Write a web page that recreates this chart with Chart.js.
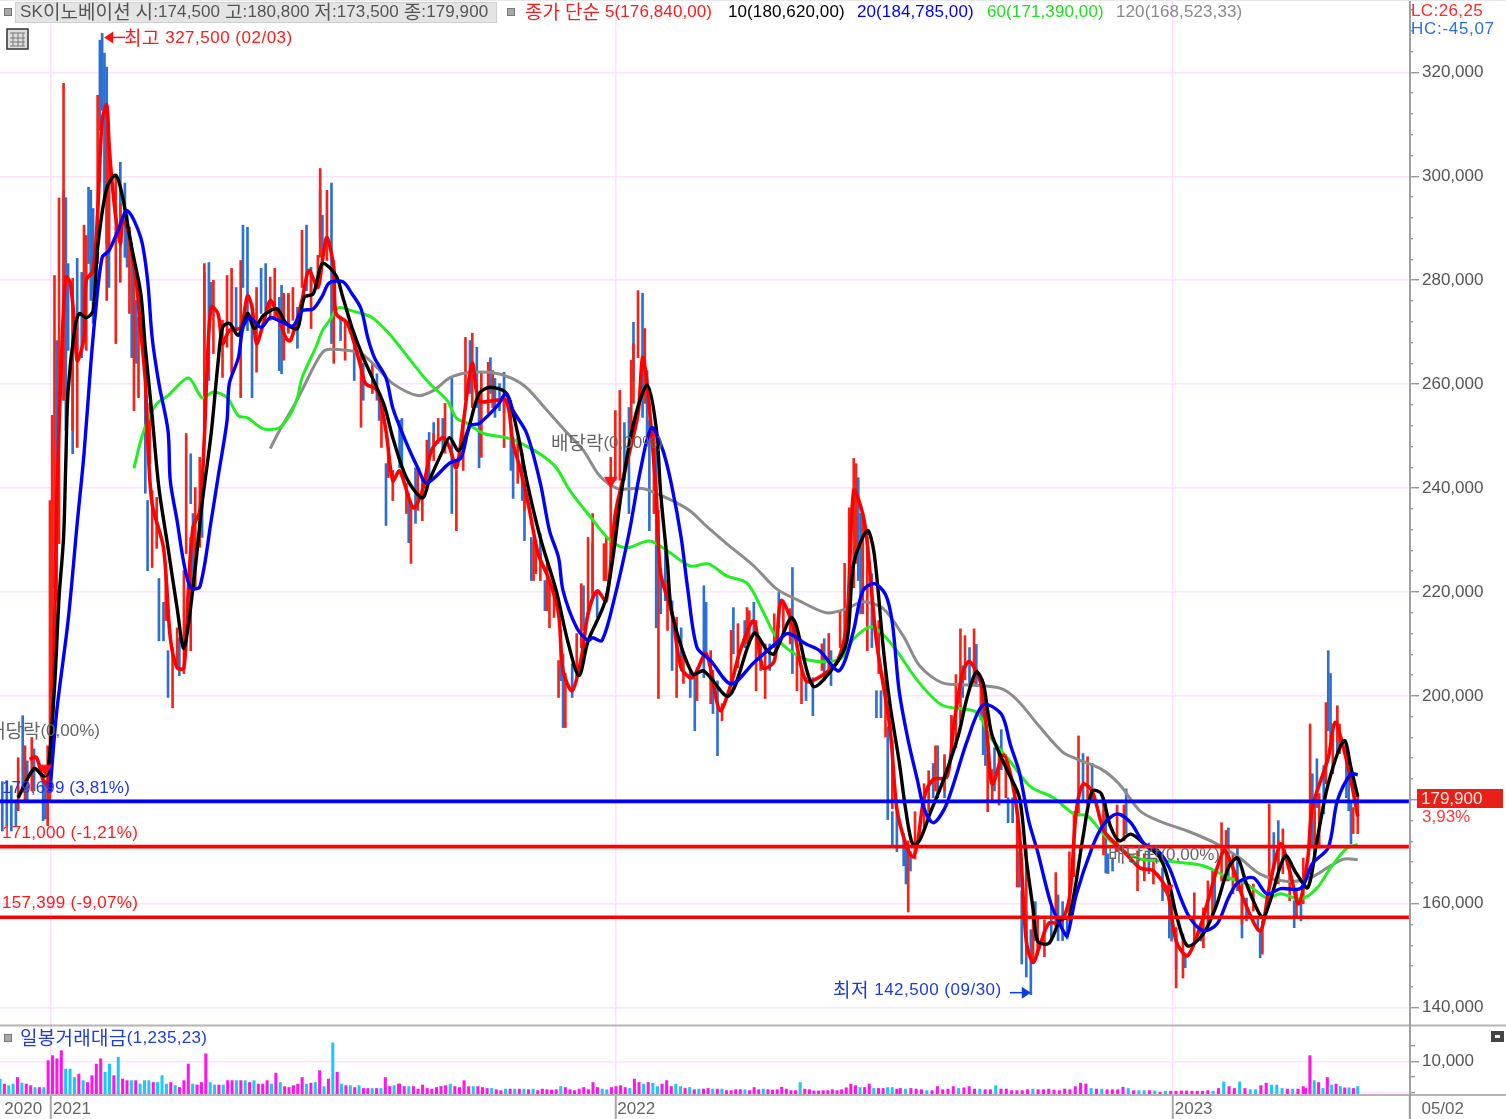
<!DOCTYPE html>
<html lang="ko"><head><meta charset="utf-8"><title>SK이노베이션</title>
<style>html,body{margin:0;padding:0;background:#fff}canvas{display:block}</style>
<script src="https://cdn.jsdelivr.net/npm/chart.js@4/dist/chart.umd.min.js"></script>
</head><body><canvas id="c" width="1506" height="1119"></canvas>
<script>
// all prices in thousands of won; each pair is [session index, value]
const ma5=[[13,187.8],[16,188.2],[19,183.8],[21,183],[23,195.9],[24,211.2],[25,237.6],[27,264],[29,280.6],[31,279.4],[33,270.3],[34,264.5],[37,268.9],[38,280],[41,281.9],[43,292.9],[45,310.8],[47,313.7],[48,306.4],[49,300.6],[51,292.1],[53,287.1],[54,291.5],[56,290.2],[58,285.8],[60,280],[62,270.3],[64,260.7],[65,249.8],[67,237],[72,228.5],[75,211.2],[78,205.4],[81,205.4],[83,220.8],[85,232.4],[88,235.6],[90,249.7],[91,260.7],[93,274.8],[96,273.6],[98,267.8],[101,270.3],[106,270.9],[109,277],[111,274.8],[113,267.8],[116,271.7],[119,276.1],[122,273.6],[126,268.8],[128,268.4],[133,276.1],[136,281.9],[140,278.6],[142,283.8],[144,288.2],[147,282.4],[148,273.6],[153,271.7],[159,263.2],[161,260.1],[166,258.8],[170,251],[173,241.4],[176,243.3],[182,236.2],[186,239.5],[190,247.2],[195,249.7],[198,247.8],[201,243.9],[204,252.4],[208,264],[211,256.8],[217,256.8],[223,256.8],[226,248.5],[229,243.9],[233,236.2],[237,227.4],[242,222.2],[246,215.8],[248,204.8],[252,201],[256,207.3],[259,215.8],[263,220.2],[267,218.3],[271,235],[276,244.7],[281,254.3],[283,265.1],[285,260.1],[289,238.9],[291,223.5],[296,215.8],[300,205.4],[305,203.5],[311,208.1],[317,197.2],[322,202.3],[326,208.7],[332,214.4],[336,205.4],[341,206.7],[344,218.3],[349,213.9],[355,202.9],[363,204.2],[369,206.8],[373,214.4],[376,239.5],[380,235],[382,229.2],[386,210.6],[392,193.7],[395,178.3],[399,171.4],[402,169],[404,171.4],[407,180.4],[411,183.9],[417,184.4],[420,194.1],[424,204.5],[427,206.6],[432,202.4],[435,191.2],[437,183],[442,188.6],[446,183],[449,173.4],[452,152.8],[455,148.7],[458,152],[462,156.3],[467,156.3],[471,161.1],[474,177.7],[477,183],[481,181.7],[486,174.2],[490,172.1],[496,169.6],[502,166.9],[508,166.3],[514,162.5],[518,152.8],[523,150],[529,156.1],[532,160.5],[539,170.2],[543,166.9],[548,160.5],[555,154.8],[559,163.1],[564,171.5],[568,166.3],[572,160],[576,168.8],[578,178.5],[585,188.1],[588,194.9],[592,189.5],[595,183.7],[598,176.8]];
const ma10=[[8,180.4],[15,186],[19,184.6],[21,185],[24,201.6],[26,218.9],[28,230.5],[29,245.3],[30,258.8],[33,270.9],[35,273.6],[38,272.8],[41,274.1],[43,286.3],[47,297.7],[51,300.2],[54,296],[58,286.3],[62,277.4],[64,267],[67,253.9],[70,240],[74,228.5],[78,216.9],[81,209.2],[85,220.8],[89,237],[93,250.5],[96,264],[98,270.9],[101,271.7],[105,269.4],[109,273.6],[112,270.7],[116,273.2],[122,274.5],[126,271.7],[131,270.7],[134,276.7],[138,277.4],[142,283.2],[148,280.9],[151,276.7],[155,270.9],[160,265.1],[169,256.2],[173,249.7],[179,242],[186,238.1],[189,241.4],[195,247.2],[198,249.7],[202,247.2],[206,251],[211,258.2],[216,259.4],[223,258.2],[228,250.5],[232,241.4],[238,230.4],[245,220.2],[250,210.6],[255,203.9],[259,210.6],[267,218.9],[274,240.1],[279,252.4],[285,259.8],[289,251.6],[291,238.9],[294,225.4],[296,215.8],[305,204.2],[310,204.8],[321,200],[332,212],[338,208.7],[341,208.1],[349,215],[358,201.9],[367,205.4],[373,210.6],[376,225.5],[382,231.8],[385,227.4],[389,209.3],[392,198.3],[396,187.4],[399,177.8],[402,171.4],[405,172.2],[410,177.8],[415,183.2],[422,192.3],[426,199.8],[430,204.6],[433,202.5],[435,197.1],[437,192.3],[444,185.3],[449,180.4],[452,168.6],[455,159],[457,152.8],[462,152.4],[467,156.9],[471,157.6],[477,172.9],[481,181.7],[485,181.2],[489,175],[493,172.1],[498,173.4],[504,171.5],[511,168.8],[515,163.8],[518,158],[523,151.9],[530,154.2],[536,160],[541,166.9],[545,168.8],[549,163.8],[556,157.3],[559,160],[566,169.2],[571,165.8],[576,163.1],[580,172.1],[585,183.1],[592,191.4],[595,186.2],[598,180.6]];
const ma20=[[22,181.7],[25,197.1],[30,214.5],[34,233.2],[37,246.6],[40,263.9],[42,273.6],[45,284.4],[48,285.7],[52,289.6],[56,293.4],[62,288.2],[65,280],[67,269],[70,260.1],[74,251],[75,241.4],[78,233.7],[81,225.5],[84,220.8],[88,221],[93,233.7],[96,242],[100,253],[101,260.1],[105,265.1],[107,270.9],[110,272.8],[115,270.9],[119,272.8],[123,272.2],[129,271.2],[133,274.1],[138,274.5],[142,277],[145,279.5],[151,279.7],[155,277.4],[159,274.5],[162,268.9],[165,265],[170,261.2],[173,255.4],[178,249.7],[184,243.9],[188,241],[198,244.8],[203,245.8],[207,252],[211,252.4],[219,255.8],[223,258.2],[226,254.9],[232,250.5],[238,240.9],[242,231.8],[246,226.6],[248,220.2],[254,213.1],[259,210.6],[261,211.2],[265,210.6],[270,217.7],[277,231.2],[282,243.3],[287,251.6],[292,247.2],[296,240.1],[300,230.5],[303,220.2],[307,209.3],[313,206.8],[322,202.3],[332,206.4],[342,210.2],[347,212],[355,210],[361,208.7],[369,204.8],[372,206.6],[376,212.7],[380,220.2],[385,221.6],[390,219.5],[393,214.1],[396,201],[400,191.4],[404,183.9],[407,178.3],[411,175.6],[416,178.3],[420,183.1],[426,191.4],[433,198.3],[441,196.5],[445,190.6],[449,185.2],[453,176.1],[457,170],[463,159.8],[468,155],[470,153.8],[474,161.7],[481,170.8],[486,175.2],[492,177.3],[498,175.6],[504,171.5],[510,170.2],[515,166.9],[520,161.1],[524,157.3],[530,154.8],[536,156.1],[541,161.1],[545,164],[552,165],[558,161.9],[564,162.9],[573,163],[578,167.7],[585,170.8],[589,179.8],[595,185],[598,184.8]];
const ma60=[[59,243.8],[62,249.1],[65,253],[69,256.2],[74,257.8],[83,261.2],[89,257.4],[94,258.5],[100,257.4],[105,253.9],[109,253.5],[116,251.4],[123,251.6],[128,254.3],[131,257.4],[133,261.2],[139,267],[142,270.3],[145,272.2],[149,274.7],[155,274.1],[164,272.8],[173,268.9],[182,263.9],[189,260.2],[197,256.8],[201,253.5],[206,252.4],[213,250.5],[223,249.7],[230,248.5],[239,246.2],[245,243.9],[251,239.5],[259,235],[269,229.8],[276,228.5],[286,229.8],[294,227.9],[304,225],[312,225.4],[320,223.1],[329,221.7],[336,216.3],[341,211.9],[347,209],[357,206.8],[370,207.1],[376,211],[384,213.3],[393,209.8],[404,203],[415,198.2],[430,196.9],[436,192.1],[444,187.9],[454,182.5],[464,180.4],[473,177.3],[479,176.9],[486,173.4],[493,170.7],[502,168.6],[514,168.2],[530,167.3],[541,165],[549,163.8],[558,161.1],[564,161.9],[573,160.9],[580,163],[586,166.9],[593,170.6],[598,171.4]];
const ma120=[[119,247.6],[123,251],[129,255.5],[133,258.8],[138,263.2],[142,266.1],[145,266.7],[153,266.5],[159,265.9],[166,263.2],[173,260.1],[184,257.8],[191,258.8],[198,261.2],[206,262.2],[217,262.2],[225,261.2],[232,259.3],[240,255.4],[249,251],[257,247.2],[264,242.4],[272,239.9],[283,239.9],[294,238],[304,235.6],[311,232.7],[320,229.3],[332,225],[342,220.6],[352,218.3],[364,216],[373,216.8],[380,218.1],[389,216.8],[398,211.4],[405,205.8],[415,202.5],[427,202.1],[441,201.4],[448,199.2],[458,194],[468,189.2],[474,187.9],[485,185.9],[493,183],[502,177.9],[510,176],[523,174],[536,171.5],[546,168.8],[555,165.7],[567,164.3],[577,165],[586,167.3],[592,168.6],[598,168.5]];
// rising and falling sessions: [session index, low, high]
const redWicks=[[8,177.9,188.1],[11,179.8,190.4],[14,181.7,192],[21,175,190.4],[22,179.8,237.6],[23,190.4,254],[24,220.8,280.9],[26,229.3,295.8],[28,256.9,317.9],[32,251.1,280.4],[34,247.8,272.8],[37,270.3,290.6],[38,266.5,288.6],[43,283.2,315.6],[47,276.1,314],[48,286.3,306.4],[51,267.8,300.2],[53,279.6,294.8],[57,273.6,290.2],[59,254.9,283.2],[61,257.4,272.8],[66,244.7,256.3],[67,224.7,239.5],[69,228.4,238.2],[73,214.5,223.5],[76,197.7,209.3],[78,205.4,213.1],[81,204.3,224.1],[82,227.4,250.5],[84,208.7,230.5],[86,220.8,240.1],[88,228.6,245.9],[90,249.7,283.2],[94,265.9,280],[98,261.3,272.3],[100,267.1,280.9],[102,262.1,282.3],[106,257.4,283.8],[113,262.3,278.6],[119,272.3,280.6],[121,272.8,282.3],[125,264.6,277.5],[127,269.8,277.5],[129,272.3,278.6],[133,278.6,289.6],[137,270.7,281.3],[140,279.4,284.8],[141,284.4,301.5],[144,283.8,297.3],[147,264,283.8],[152,264.6,272.3],[159,251.7,265.9],[164,258.2,264],[168,247.8,256.9],[171,242,247.8],[173,237.6,243.4],[179,235.1,240.9],[181,225.5,237],[184,235.7,243.9],[186,233.7,238.9],[188,239.5,249.2],[191,245.3,250.5],[193,248.6,253.4],[196,246.7,256.3],[201,231.8,243.4],[204,243.4,253],[205,256.9,269],[208,255.5,269.8],[212,245.9,262.1],[215,254.4,264.2],[217,255.5,262.6],[222,247.8,258.8],[228,240.9,249.7],[231,235.7,240.9],[235,222.2,229.9],[236,223.5,229.9],[238,222.2,227.4],[241,216.4,226],[242,213.1,222.2],[244,215.1,221.6],[246,199.7,206.8],[249,193.9,204.3],[254,203.5,212],[256,209.3,221.6],[259,215.8,230.5],[261,218.9,235.1],[266,222.2,229.3],[267,222.2,230.5],[269,224.1,245.9],[271,241.5,254.9],[273,241.5,258.8],[278,251.1,264.6],[279,256.3,267.8],[281,265.1,278],[284,256.3,270.7],[288,235.1,251.7],[290,199.5,235.7],[294,212.6,222.2],[298,199.7,215.1],[301,202.4,208.1],[307,199.1,205.4],[313,198.5,208.7],[318,195.2,198.5],[322,202.9,212.6],[325,205.4,213.9],[329,210,217],[330,210,216.4],[333,201,214.5],[335,204.9,210.6],[337,199.5,210],[341,209.3,215.8],[345,212,218.3],[348,210,216.8],[351,201,208.1],[353,198.5,204.9],[362,204.9,210],[365,204.9,212],[370,209.3,216.4],[372,209.3,225.5],[374,215.8,236.2],[376,220.8,245.7],[377,225.5,244.7],[380,215.8,234.3],[382,208.7,230.5],[387,204.3,214.5],[390,192.1,204.5],[393,178.3,191.4],[400,158.4,172.1],[403,168.6,177.7],[407,174.8,183.1],[409,177.7,185.6],[412,181.7,190.4],[416,181.7,188.7],[419,188.7,196.2],[421,190,204.1],[423,194.8,212.9],[425,203.1,211.6],[429,202.4,212.9],[432,195.4,203.1],[435,177.7,188.7],[437,179.6,185.8],[440,179,190],[443,180.4,188.7],[448,163.2,176.2],[452,150.2,170.8],[455,148.8,159.8],[457,150.2,157.7],[460,149.8,156.9],[465,155.6,166],[471,156.7,170],[473,165.2,177.7],[475,176.9,192.3],[479,179,188.3],[486,169.4,180.4],[492,170,179],[495,172.1,179],[501,162.5,170.2],[504,164.4,169.6],[508,163.8,168.3],[518,143.8,155.4],[521,145.7,154.2],[526,152.8,162.1],[530,151.5,159.2],[532,155.4,164.4],[534,157.3,166.3],[538,164.4,175.6],[540,164.4,174.1],[543,161.9,169.6],[547,156.1,164.4],[552,158.6,163.8],[556,150.3,156.7],[559,163.1,179.2],[563,163.8,172.1],[565,165.8,174.4],[568,160.6,168.3],[571,157.3,162.5],[574,160,168.8],[577,170.8,194.6],[579,169.6,179.8],[581,170.8,181.2],[584,183.1,198.7],[587,185,194.6],[589,191.4,198.1],[590,188.9,194.6],[596,173.5,178.5],[598,173.5,180.8]];
const blueWicks=[[1,174,183.5],[3,175,183.7],[5,174,182.7],[7,175,179.8],[10,181.7,196.2],[12,179.8,187.5],[15,181.7,189.8],[19,176,184.6],[20,176.3,183.7],[25,218.3,268.4],[28,256.9,297.3],[29,251.1,295.9],[30,266.5,283.2],[32,246.6,276.7],[34,266.5,284.2],[36,265.1,281.5],[39,283.2,297.9],[40,276.1,297.3],[41,271.7,293.8],[44,308.9,326.2],[45,312.7,327.5],[46,295.4,323.7],[47,287.1,321],[48,278.6,304.4],[53,286.3,302.7],[55,284.4,298.7],[56,282.5,293.5],[58,265.1,287.1],[60,264,276.1],[64,239,260.7],[65,224.1,237.6],[70,210.6,222.6],[72,210.6,218],[74,199.7,208.7],[79,203.9,211.2],[84,237,246.6],[85,220.8,235.1],[89,230.5,243],[90,264.6,281.5],[92,260.7,283.4],[93,274.2,279.6],[104,270.3,278.6],[107,278.6,290.6],[109,270.3,290.2],[111,257.4,275.5],[115,273.6,282.3],[117,274.2,283.2],[123,262.6,276.7],[124,262,279],[127,270.3,277.1],[131,266.9,274.8],[135,278,290.6],[137,277.5,282.5],[141,288.3,297.3],[142,283.8,292.5],[146,267.8,298.7],[150,268.4,272.8],[156,260.7,267.8],[160,256.9,264],[166,256.9,262],[167,253,257.4],[170,232.8,244.7],[176,243.9,253],[177,243.9,253.4],[180,229.5,238.9],[183,233.2,243.9],[186,238.2,241.5],[189,242,250.7],[191,246.7,252.6],[195,247.2,253.4],[199,235.1,261.1],[207,258.2,268.4],[210,255.5,267.1],[211,243.9,258.2],[216,258.2,265.1],[218,253.6,261.1],[220,254.9,260.1],[222,254.4,262.3],[225,243.4,256.9],[226,238,249.7],[230,237.6,246.7],[231,229.9,238.9],[234,222.2,230.5],[238,224.7,231.2],[240,216.4,222.2],[247,202.9,212.6],[248,193.9,208.1],[252,199.7,206.2],[257,212.6,221.2],[261,219.7,229.3],[263,215.1,220.3],[275,241.5,252.6],[277,235.1,255.5],[279,260.7,271.9],[283,253.6,277.5],[285,249.7,262.6],[286,231.8,253],[289,213.1,247.8],[291,215.8,223.5],[293,218.3,228.5],[296,204.9,218.3],[300,204.9,213.1],[304,199.7,204.9],[306,193.3,203.5],[310,203.5,221.2],[311,207.4,218],[314,196.6,204.9],[316,188.5,202.9],[323,208.1,217],[328,209.3,214.5],[332,212,218],[339,204.9,210],[343,213.1,219.9],[349,204.3,224.7],[355,199.1,203.5],[358,196.2,203.5],[363,202.9,211],[366,202,208.7],[378,222.2,242],[379,215.8,235.1],[384,209.3,223.5],[386,195.8,201],[388,195.8,201],[391,176.2,194.1],[393,171.3,177.7],[395,170,177.7],[398,167.3,173.5],[399,163.8,171.3],[401,166.3,170],[411,180.4,187],[413,180.4,190.4],[416,180.4,187.9],[419,191.4,196.2],[424,199.7,205.8],[427,201.8,209.3],[430,201.8,209.9],[433,188.7,198.9],[434,186.6,195.4],[438,181.7,190],[441,185.8,193.5],[444,175.6,180.4],[446,175.6,180.4],[449,163.2,170],[450,148.4,162.5],[452,145.9,158.4],[454,142.5,155],[456,152.9,160.4],[463,152.9,159.8],[466,152.9,161.7],[468,152.9,160.4],[470,153.2,156.9],[477,179.6,188.9],[481,179.6,187],[487,165.9,179.6],[488,165.8,169.6],[490,166.3,168.8],[496,173.5,182.1],[506,165.8,171.7],[512,160.6,166.9],[515,153.4,160.6],[516,152.8,161.1],[518,147.5,154.2],[522,147.7,150.4],[529,152.8,156.1],[535,159.2,166.3],[541,164.4,174.6],[545,162.5,170.8],[547,153.4,161.1],[549,156.7,161.1],[554,154.8,157.3],[555,149.6,154.8],[561,166.9,173.7],[563,166.3,176],[570,155.4,160.6],[573,156.7,161.1],[578,170.8,185],[580,178.5,187.9],[583,177.3,186.6],[585,193.3,208.7],[586,191.4,204.3],[589,188.9,195.2],[593,180.4,190],[594,177.9,185],[595,171.5,179.8]];
// daily traded value in hundreds; a negative sign marks a falling session
const volA=[-43,27,-22,-27,48,-30,27,22,-16,16,-16,102,118,108,134,-75,-75,-48,59,-38,32,54,91,108,-65,-91,54,-113,43,38,-38,38,-27,-38,-38,32,-32,-54,-27,32,-22,16,38,91,-27,24,32,124,-32,-24,24,-24,38,38,-38,38,-38,32,-38,27,27,38,-27,62,-32,19,16,22,27,48,-27,30,-32,70,-19,43,-159,65,-27,22,-22,16,-22,13,13,-13,13,-13,48,19,-22,27];
const volB=[27,19,-19,19,11,24,13,11,16,19,22,-27,19,16,38,19,-19,19,16,13,-13,9,6,-11,11,-11,11,-11,9,-11,6,11,9,8,9,-19,16,9,6,11,16,9,32,16,-11,-9,16,19,22,16,-13,43,32,-27,32,-30,-19,27,38,19,-27,-19,13,-16,9,-11,11,13,-11,11,-11,6,6,9,9,-9,6,16,9,-11,9,8,9,17,11,6,6,-32,11,9,5,5,6,6,9,6,9,15,27,22,-16,16,27,-13,13,13,-16,-16,11];
const volC=[13,-11,13,11,9,-6,6,19,9,11,19,-13,15,19,11,-11,9,9,-22,11,11,6,6,6,9,-11,9,9,11,8,6,11,9,19,30,27,-13,11,-11,9,9,9,17,-13,6,-6,-6,6,-5,1,-4,4,4,5,5,4,4,4,6,-4,13,-34,19,13,-34,13,-9,-9,22,30,-24,-24,-13,11,-11,11,19];
const volD=[13,118,-38,32,-13,48,-24,27,-19,15,-15,13,-19];
const volSegments=[[volA,0,175.5],[volB,176,395],[volC,396.5,574],[volD,575,598]];
const dividendSessions=[[20,186],[269,241.4],[514,162.9]];
const levelBlue=179.699, levelRed1=171, levelRed2=157.399;
const priceTicks=[];for(let v=140;v<=332;v+=4)priceTicks.push(v*1000);
const volTicks=[0,5000,10000,15000];
const dateTicks=[[1,'2020'],[22.5,'2021'],[271,'2022'],[516.5,'2023'],[621,'  05/02']];
const header='SK이노베이션 시:174,500 고:180,800 저:173,500 종:179,900';
const legendItems=[['종가 단순 5(176,840,00)','#ff1a1a',525],['10(180,620,00)','#000',728],['20(184,785,00)','#0000ff',857],['60(171,390,00)','#22dd22',987],['120(168,523,33)','#8a8a8a',1116]];

const LATIN='17px "Liberation Sans",sans-serif', CJK='19px "Noto Sans CJK KR",sans-serif';
const P=a=>a.map(([x,v])=>({x,y:v*1000}));
const W=a=>a.map(([x,l,h])=>({x,y:[l*1000,h*1000]}));
const H=v=>[{x:0,y:v*1000},{x:620.5,y:v*1000}];
const line=(data,color,w)=>({type:'line',data:P(data),borderColor:color,borderWidth:w,pointRadius:0,tension:0.3,yAxisID:'y',xAxisID:'x',fill:false});
const hline=(v,color)=>({type:'line',data:H(v),borderColor:color,borderWidth:3.6,pointRadius:0,yAxisID:'y',xAxisID:'x'});
const volData=[],volColors=[];
volSegments.forEach(([arr,a,b])=>arr.forEach((v,i)=>{volData.push({x:a+i*(b-a)/(arr.length-1||1),y:[-800,Math.abs(v)*100]});volColors.push(v<0?'#1cc8fa':'#ff14ee');}));

const annotations={id:'annotations',
 afterDatasetsDraw(ch){
  const c=ch.ctx,xs=ch.scales.x,ys=ch.scales.y;
  const t=(s,x,y,col,sp)=>{c.fillStyle=col;c.textAlign='left';c.textBaseline='middle';c.letterSpacing=(sp||0)+'px';
    for(const run of s.match(/[\uac00-\ud7a3]+|[^\uac00-\ud7a3]+/g)){const k=/[\uac00-\ud7a3]/.test(run);c.font=k?CJK:LATIN;c.fillText(run,x,y);x+=c.measureText(run).width;}
    c.letterSpacing='0px';};
  c.save();
  c.strokeStyle='#b4b4b4';c.lineWidth=2;
  c.beginPath();c.moveTo(0,1025.5);c.lineTo(1506,1025.5);c.moveTo(0,1095);c.lineTo(1506,1095);c.stroke();
  c.strokeStyle='#a0a0a0';c.beginPath();c.moveTo(1410,0);c.lineTo(1410,1119);c.stroke();
  c.strokeStyle='#e8e8e8';c.lineWidth=1;c.beginPath();c.moveTo(0,.5);c.lineTo(1506,.5);c.stroke();
  c.fillStyle='#e4e4e4';c.strokeStyle='#cfcfcf';c.fillRect(15,2,482,21);c.strokeRect(15.5,2.5,481,20);
  const sq=(x,y,s)=>{c.fillStyle='#a8a8a8';c.strokeStyle='#777';c.fillRect(x,y,s,s);c.strokeRect(x+.5,y+.5,s-1,s-1);};
  sq(4,8,8);sq(507,8,8);sq(4,1034,8);
  t(header,20,12,'#555',0.1);
  legendItems.forEach(([s,col,x])=>t(s,x,12,col,0.1));
  t('LC:26,25',1411,11,'#ff2a2a',0.4);t('HC:-45,07',1411,29,'#2a70e0',0.7);
  c.fillStyle='#ddd';c.fillRect(7,29,21,20);c.strokeStyle='#333';c.lineWidth=1.5;c.strokeRect(7,29,21,20);
  c.strokeStyle='#777';c.lineWidth=1;c.beginPath();
  [13,18,23].forEach(x=>{c.moveTo(x,33);c.lineTo(x,46);});[33,38,42,46].forEach(y=>{c.moveTo(10,y);c.lineTo(25,y);});c.stroke();
  const hx=xs.getPixelForValue(45)+2,hy=ys.getPixelForValue(327500)+4;
  c.fillStyle='#ff1010';c.beginPath();c.moveTo(hx,hy);c.lineTo(hx+9,hy-6);c.lineTo(hx+9,hy+6);c.fill();
  c.strokeStyle='#ff1010';c.lineWidth=1.5;c.beginPath();c.moveTo(hx+8,hy);c.lineTo(hx+21,hy);c.stroke();
  t('최고 327,500 (02/03)',124,38,'#ff1a1a',0.5);
  const lx=xs.getPixelForValue(454),ly=ys.getPixelForValue(142500)-2;
  c.fillStyle='#0a3ce0';c.beginPath();c.moveTo(lx,ly);c.lineTo(lx-9,ly-6);c.lineTo(lx-9,ly+6);c.fill();
  c.strokeStyle='#0a3ce0';c.beginPath();c.moveTo(lx-21,ly);c.lineTo(lx-8,ly);c.stroke();
  t('최저 142,500 (09/30)',833,990,'#1a3ce0',0.5);
  t('179,699 (3,81%)',2,788,'#2438e8',0.15);
  t('171,000 (-1,21%)',2,833,'#ff1a1a',0.3);
  t('157,399 (-9,07%)',2,903,'#ff1a1a',0.3);
  ['배당락(0,00%)'].forEach(s=>{t(s,-12,731,'#666');t(s,551,443,'#666');t(s,1108,855,'#666');});
  c.fillStyle='#e8201a';c.fillRect(1417,789,86,19);
  t('179,900',1421,799,'#ffe8e0');t('3,93%',1422,817,'#ff3a3a');
  t('일봉거래대금(1,235,23)',20,1038,'#1a3ce0',0.3);
  c.fillStyle='#444';c.fillRect(1491,1031,13,11);c.fillStyle='#eee';c.fillRect(1495,1035,5,3);
  c.restore();
 }};

const noEdge=s=>{s.paddingTop=0;s.paddingBottom=0;s.paddingLeft=0;s.paddingRight=0;};
new Chart(document.getElementById('c'),{
 type:'bar',
 plugins:[annotations],
 data:{datasets:[
  hline(levelBlue,'#0000ff'),hline(levelRed1,'#ff0000'),hline(levelRed2,'#ff0000'),
  {type:'line',data:P(dividendSessions),showLine:false,pointStyle:'triangle',rotation:180,pointRadius:7,pointBackgroundColor:'#ff1010',pointBorderColor:'#ff1010',yAxisID:'y',xAxisID:'x'},
  line(ma20,'#0000ff',3.4),line(ma10,'#000000',3.4),line(ma5,'#ff0000',3.6),
  line(ma60,'#22ee22',3),line(ma120,'#8c8c8c',3),
  {type:'bar',data:W(redWicks),backgroundColor:'#f42318',barThickness:2,grouped:false,yAxisID:'y',xAxisID:'x'},
  {type:'bar',data:W(blueWicks),backgroundColor:'#2c70d2',barThickness:2,grouped:false,yAxisID:'y',xAxisID:'x'},
  {type:'bar',data:volData,backgroundColor:volColors,barThickness:2.4,grouped:false,yAxisID:'yv',xAxisID:'x'}
 ]},
 options:{
  responsive:false,animation:false,events:[],
  layout:{padding:0,autoPadding:false},
  plugins:{legend:{display:false},tooltip:{enabled:false},title:{display:false}},
  scales:{
   x:{type:'linear',position:'bottom',min:0,max:621,offset:false,
    afterFit:s=>{s.height=24;noEdge(s);},
    afterBuildTicks:s=>{s.ticks=dateTicks.map(([v])=>({value:v}));},
    grid:{offset:false,tickLength:24,color:c=>(c.tick&&[22.5,271,516.5].includes(c.tick.value))?'#fde2fd':'transparent',lineWidth:1.5,tickColor:c=>c.tick&&(c.tick.value>1)?'#a8a8a8':'transparent',tickWidth:2},
    border:{display:false},
    ticks:{autoSkip:false,maxRotation:0,minRotation:0,align:'start',padding:-20,labelOffset:2,color:'#666',font:{size:17,family:'"Liberation Sans"'},
     callback:v=>{const d=dateTicks.find(e=>e[0]===v);return d?d[1]:'';}}
   },
   y:{type:'linear',position:'right',stack:'panes',stackWeight:1025.5,min:136475,max:333930,
    afterFit:s=>{s.width=96;noEdge(s);},
    afterBuildTicks:s=>{s.ticks=priceTicks.map(v=>({value:v}));},
    grid:{tickLength:9,lineWidth:1.5,color:c=>(c.tick&&c.tick.value%20000===0)?'#fde2fd':'transparent',tickColor:'#8a8a8a',tickWidth:1.2,tickBorderDash:c=>(c.tick&&c.tick.value%20000===0)?[]:[3,30]},
    border:{display:false},
    ticks:{autoSkip:false,padding:3,color:'#555',font:{size:17,family:'"Liberation Sans"'},
     callback:v=>v%20000===0?v.toLocaleString('en-US'):''}
   },
   yv:{type:'linear',position:'right',stack:'panes',stackWeight:69,min:-800,max:21300,
    afterFit:s=>{s.width=96;noEdge(s);},
    afterBuildTicks:s=>{s.ticks=volTicks.map(v=>({value:v}));},
    grid:{tickLength:9,lineWidth:1.5,color:c=>(c.tick&&c.tick.value%10000===0)?'#fde2fd':'transparent',tickColor:'#8a8a8a',tickWidth:1.2,tickBorderDash:c=>(c.tick&&c.tick.value===10000)?[]:[5,30]},
    border:{display:false},
    ticks:{autoSkip:false,padding:3,color:'#555',font:{size:17,family:'"Liberation Sans"'},
     callback:v=>v===10000?'10,000':''}
   }
  }
 }
});
</script></body></html>
